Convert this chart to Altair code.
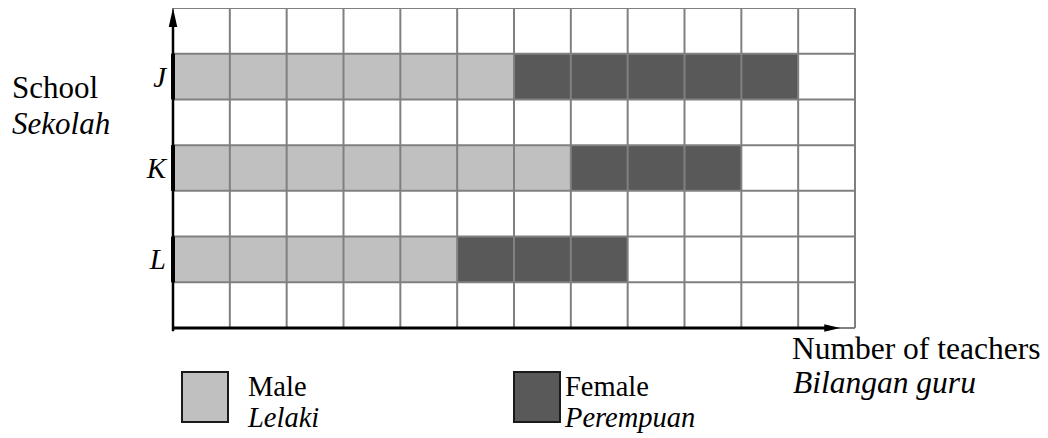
import altair as alt
import pandas as pd

# ---- data ----
schools = ["J", "K", "L"]
male_teachers = [6, 7, 5]
female_teachers = [5, 3, 3]
sexes = ["Male", "Female"]
sex_labels_ms = ["Lelaki", "Perempuan"]
sex_colors = ["#c0c0c0", "#595959"]
n_cols = 12          # grid columns (number of teachers)
n_rows = 7           # grid rows

# ---- layout (pixels) ----
W, H = 1032, 428
CELL_W = 682 / 12
ROW_H = 320 / 7
X0 = 165             # plot-x of value 0
FONT = "Liberation Serif"

x_scale = alt.Scale(domain=[-X0 / CELL_W, (W - X0) / CELL_W], nice=False, zero=False)
y_scale = alt.Scale(domain=[0, H / ROW_H], reverse=True, nice=False, zero=False)

# bars: school i occupies grid row 2*i+1 (counting from top)
bar_rows = []
for i, s in enumerate(schools):
    r = 2 * i + 1
    m, f = male_teachers[i], female_teachers[i]
    bar_rows.append({"school": s, "sex": "Male", "x": 0, "x2": m, "y": r, "y2": r + 1})
    bar_rows.append({"school": s, "sex": "Female", "x": m, "x2": m + f, "y": r, "y2": r + 1})
bars_df = pd.DataFrame(bar_rows)

bars = alt.Chart(bars_df).mark_rect(strokeWidth=0).encode(
    x=alt.X("x:Q", scale=x_scale, axis=None),
    x2="x2:Q",
    y=alt.Y("y:Q", scale=y_scale, axis=None),
    y2="y2:Q",
    color=alt.Color("sex:N", scale=alt.Scale(domain=sexes, range=sex_colors), legend=None),
)

vlines = pd.DataFrame({"x": list(range(n_cols + 1)), "y": 0, "y2": n_rows})
hlines = pd.DataFrame({"y": list(range(n_rows + 1)), "x": 0, "x2": n_cols})

grid_v = alt.Chart(vlines).mark_rule(color="#808080", strokeWidth=2).encode(
    x=alt.X("x:Q", scale=x_scale, axis=None),
    y=alt.Y("y:Q", scale=y_scale, axis=None),
    y2="y2:Q",
)
grid_h = alt.Chart(hlines).mark_rule(color="#808080", strokeWidth=2).encode(
    y=alt.Y("y:Q", scale=y_scale, axis=None),
    x=alt.X("x:Q", scale=x_scale, axis=None),
    x2="x2:Q",
)

# axes
yaxis_df = pd.DataFrame({"x": [0], "y": [0.2], "y2": [n_rows + 0.07]})
yaxis = alt.Chart(yaxis_df).mark_rule(color="black", strokeWidth=2.5).encode(
    x=alt.X("x:Q", scale=x_scale, axis=None),
    y=alt.Y("y:Q", scale=y_scale, axis=None),
    y2="y2:Q",
)
thick_df = pd.DataFrame({"x": 0, "y": [2 * i + 1 for i in range(len(schools))],
                         "y2": [2 * i + 2 for i in range(len(schools))]})
yaxis_thick = alt.Chart(thick_df).mark_rule(color="black", strokeWidth=4).encode(
    x=alt.X("x:Q", scale=x_scale, axis=None),
    y=alt.Y("y:Q", scale=y_scale, axis=None),
    y2="y2:Q",
)
xaxis_df = pd.DataFrame({"y": [n_rows], "x": [0], "x2": [11.6]})
xaxis = alt.Chart(xaxis_df).mark_rule(color="black", strokeWidth=3).encode(
    y=alt.Y("y:Q", scale=y_scale, axis=None),
    x=alt.X("x:Q", scale=x_scale, axis=None),
    x2="x2:Q",
)
xarrow = alt.Chart(pd.DataFrame({"x": [11.6], "y": [n_rows]})).mark_point(
    shape="M-1,-0.47L1,0L-1,0.47Z", size=256, filled=True, color="black", opacity=1, strokeWidth=0
).encode(x=alt.X("x:Q", scale=x_scale, axis=None), y=alt.Y("y:Q", scale=y_scale, axis=None))
yarrow = alt.Chart(pd.DataFrame({"x": [0], "y": [9.5 / ROW_H]})).mark_point(
    shape="M0,-1L0.45,1L-0.45,1Z", size=361, filled=True, color="black", opacity=1, strokeWidth=0
).encode(x=alt.X("x:Q", scale=x_scale, axis=None), y=alt.Y("y:Q", scale=y_scale, axis=None))

# school labels
lab_df = pd.DataFrame({"school": schools, "x": 0, "y": [2 * i + 1.5 for i in range(len(schools))]})
labels = alt.Chart(lab_df).mark_text(
    align="right", baseline="alphabetic", dx=-7, dy=10, font=FONT, fontSize=29,
    fontStyle="italic", color="black"
).encode(
    x=alt.X("x:Q", scale=x_scale, axis=None),
    y=alt.Y("y:Q", scale=y_scale, axis=None),
    text="school:N",
)


def txt(t, x, y, size, italic=False):
    kw = dict(text=t, align="left", baseline="alphabetic", font=FONT, fontSize=size, color="black")
    if italic:
        kw["fontStyle"] = "italic"
    return alt.Chart().mark_text(**kw).encode(x=alt.value(x), y=alt.value(y))


def box(x, x2, y, y2, fill):
    return alt.Chart().mark_rect(fill=fill, stroke="#1a1a1a", strokeWidth=2).encode(
        x=alt.value(x), x2=alt.value(x2), y=alt.value(y), y2=alt.value(y2)
    )


texts = [
    txt("School", 4, 90, 31),
    txt("Sekolah", 4, 126, 31, True),
    txt("Number of teachers", 784, 351, 31.5),
    txt("Bilangan guru", 785, 385, 31.5, True),
    txt(sexes[0], 240, 388, 28.5),
    txt(sex_labels_ms[0], 240, 419, 28.5, True),
    txt(sexes[1], 557, 388, 28.5),
    txt(sex_labels_ms[1], 557, 419, 28.5, True),
]
legend_boxes = [
    box(174, 220, 364, 414, sex_colors[0]),
    box(506, 552, 364, 414, sex_colors[1]),
]

chart = alt.layer(
    bars, grid_v, grid_h, yaxis, yaxis_thick, xaxis, xarrow, yarrow, labels,
    *legend_boxes, *texts
).properties(
    width=W, height=H, padding=0, autosize="none"
).configure_view(stroke=None)

chart.save("out.html", embed_options={"renderer": "svg", "actions": False})
